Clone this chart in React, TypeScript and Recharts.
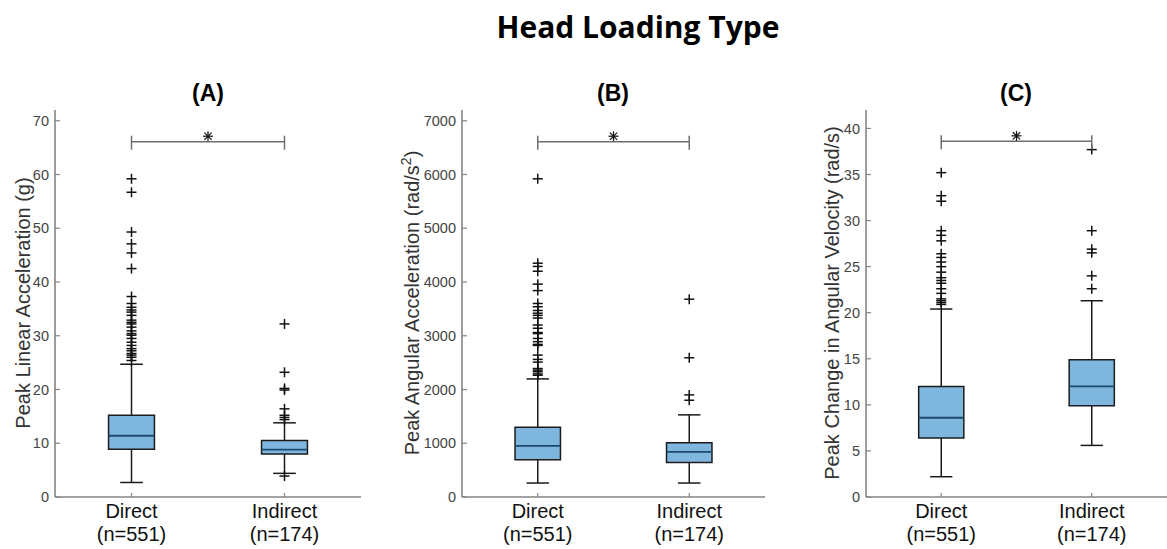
import React from 'react';
import { ComposedChart, XAxis, YAxis, Scatter, ReferenceArea, ReferenceLine } from 'recharts';

// Groups shown on every panel
const categories = ['Direct', 'Indirect'];
const sampleSizes = [551, 174];
const positions = [1, 2];

// (A) Peak linear acceleration (g)
const linearQ1 = [8.9, 8.0];
const linearMedian = [11.4, 8.8];
const linearQ3 = [15.2, 10.5];
const linearLow = [2.7, 4.4];
const linearHigh = [24.7, 13.8];
const linearDirectOutliers = [
  59.2, 56.7, 49.3, 47.1, 45.4, 42.5, 37.3, 36.0, 35.3, 34.8, 34.4, 33.8, 32.9, 32.5, 32.2,
  31.6, 30.9, 30.4, 30.1, 29.5, 28.8, 28.2, 27.6, 27.2, 26.7, 26.4, 26.0, 25.4,
];
const linearIndirectOutliers = [32.2, 23.2, 20.2, 19.9, 16.4, 15.2, 14.8, 14.4, 3.9];
const linearTicks = [0, 10, 20, 30, 40, 50, 60, 70];
const linearMax = 72;
const linearSignificance = 66.1;

// (B) Peak angular acceleration (rad/s^2)
const angularQ1 = [693, 644];
const angularMedian = [952, 841];
const angularQ3 = [1300, 1008];
const angularLow = [260, 260];
const angularHigh = [2197, 1528];
const angularDirectOutliers = [
  5920, 4350, 4290, 4200, 3960, 3840, 3600, 3540, 3470, 3420, 3380, 3330, 3200, 3140, 3060,
  3040, 2950, 2890, 2840, 2820, 2640, 2560, 2510, 2390, 2360, 2330, 2290, 2265,
];
const angularIndirectOutliers = [3680, 2590, 1900, 1800];
const angularTicks = [0, 1000, 2000, 3000, 4000, 5000, 6000, 7000];
const angularMax = 7200;
const angularSignificance = 6610;

// (C) Peak change in angular velocity (rad/s)
const velocityQ1 = [6.4, 9.9];
const velocityMedian = [8.6, 12.0];
const velocityQ3 = [12.0, 14.9];
const velocityLow = [2.2, 5.6];
const velocityHigh = [20.4, 21.3];
const velocityDirectOutliers = [
  35.2, 32.7, 32.1, 28.9, 28.4, 27.8, 26.4, 26.0, 25.5, 25.0, 24.4, 23.8, 23.5, 23.2, 22.6,
  22.1, 21.5, 21.3, 21.1, 20.9,
];
const velocityIndirectOutliers = [37.7, 28.9, 26.9, 26.5, 24.0, 22.6];
const velocityTicks = [0, 5, 10, 15, 20, 25, 30, 35, 40];
const velocityMax = 42;
const velocitySignificance = 38.6;

const FONT = '"Liberation Sans", Arial, Helvetica, sans-serif';
const AXIS_COLOR = '#858585';
const TICK_TEXT = '#444444';
const BOX_FILL = '#7eb6de';
const BOX_EDGE = '#1c1c1c';
const MEDIAN_COLOR = '#1d4a6c';
const WHISKER_COLOR = '#1a1a1a';

const BOX_HALF = 0.15;
const CAP_HALF = 0.074;
const TICK_MARGIN = 6;

const PlusMarker = (props: any) => {
  const { cx, cy } = props;
  if (cx == null || cy == null) return null;
  return (
    <g stroke="#111" strokeWidth={1.5}>
      <line x1={cx - 5} y1={cy} x2={cx + 5} y2={cy} />
      <line x1={cx} y1={cy - 5} x2={cx} y2={cy + 5} />
    </g>
  );
};

const SigEndTick = (props: any) => {
  const { cx, cy } = props;
  if (cx == null || cy == null) return null;
  return <line x1={cx} y1={cy - 6} x2={cx} y2={cy + 8} stroke="#6e6e6e" strokeWidth={1.5} />;
};

const StarMarker = (props: any) => {
  const { cx, cy } = props;
  if (cx == null || cy == null) return null;
  const y = cy - 5.5;
  const r = 5;
  const d = 3.6;
  return (
    <g stroke="#111" strokeWidth={1.2}>
      <line x1={cx} y1={y - r} x2={cx} y2={y + r} />
      <line x1={cx - r} y1={y} x2={cx + r} y2={y} />
      <line x1={cx - d} y1={y - d} x2={cx + d} y2={y + d} />
      <line x1={cx - d} y1={y + d} x2={cx + d} y2={y - d} />
    </g>
  );
};

const YTick = (props: any) => {
  const { x, y, payload } = props;
  const axisX = x + TICK_MARGIN;
  return (
    <g>
      <line x1={axisX} y1={y} x2={axisX + 5} y2={y} stroke={AXIS_COLOR} strokeWidth={1.2} />
      <text
        x={x}
        y={y}
        dy="0.36em"
        textAnchor="end"
        fill={TICK_TEXT}
        fontSize={14.5}
        fontFamily={FONT}
      >
        {payload.value}
      </text>
    </g>
  );
};

const XTick = (props: any) => {
  const { x, y, payload } = props;
  const idx = positions.indexOf(payload.value);
  if (idx < 0) return null;
  return (
    <g>
      <line x1={x} y1={y} x2={x} y2={y - 4} stroke={AXIS_COLOR} strokeWidth={1.2} />
      <text x={x} y={y + 21} textAnchor="middle" fill="#111" fontSize={20} fontFamily={FONT}>
        {categories[idx]}
      </text>
      <text x={x} y={y + 44} textAnchor="middle" fill="#111" fontSize={20} fontFamily={FONT}>
        {`(n=${sampleSizes[idx]})`}
      </text>
    </g>
  );
};

type PanelProps = {
  left: number;
  width: number;
  marginLeft: number;
  marginRight: number;
  yAxisWidth: number;
  q1: number[];
  median: number[];
  q3: number[];
  low: number[];
  high: number[];
  directOutliers: number[];
  indirectOutliers: number[];
  ticks: number[];
  yMax: number;
  significance: number;
};

const BoxPanel = (p: PanelProps) => {
  const outlierSets = [p.directOutliers, p.indirectOutliers];
  return (
    <div style={{ position: 'absolute', left: p.left, top: 0 }}>
      <ComposedChart
        width={p.width}
        height={549}
        margin={{ top: 110, right: p.marginRight, bottom: 0, left: p.marginLeft }}
      >
        <XAxis
          type="number"
          dataKey="x"
          domain={[0.5, 2.5]}
          ticks={positions}
          interval={0}
          height={52}
          tickSize={0}
          tickMargin={0}
          tickLine={false}
          axisLine={{ stroke: AXIS_COLOR, strokeWidth: 1.6 }}
          tick={<XTick />}
        />
        <YAxis
          type="number"
          dataKey="y"
          domain={[0, p.yMax]}
          ticks={p.ticks}
          interval={0}
          width={p.yAxisWidth}
          tickSize={0}
          tickMargin={TICK_MARGIN}
          tickLine={false}
          axisLine={{ stroke: AXIS_COLOR, strokeWidth: 1.6 }}
          tick={<YTick />}
        />

        {positions.map((pos, i) => (
          <ReferenceLine
            key={`wu${i}`}
            segment={[{ x: pos, y: p.q3[i] }, { x: pos, y: p.high[i] }]}
            stroke={WHISKER_COLOR}
            strokeWidth={1.5}
          />
        ))}
        {positions.map((pos, i) => (
          <ReferenceLine
            key={`wl${i}`}
            segment={[{ x: pos, y: p.low[i] }, { x: pos, y: p.q1[i] }]}
            stroke={WHISKER_COLOR}
            strokeWidth={1.5}
          />
        ))}
        {positions.map((pos, i) => (
          <ReferenceLine
            key={`cu${i}`}
            segment={[{ x: pos - CAP_HALF, y: p.high[i] }, { x: pos + CAP_HALF, y: p.high[i] }]}
            stroke={WHISKER_COLOR}
            strokeWidth={1.5}
          />
        ))}
        {positions.map((pos, i) => (
          <ReferenceLine
            key={`cl${i}`}
            segment={[{ x: pos - CAP_HALF, y: p.low[i] }, { x: pos + CAP_HALF, y: p.low[i] }]}
            stroke={WHISKER_COLOR}
            strokeWidth={1.5}
          />
        ))}
        {positions.map((pos, i) => (
          <ReferenceArea
            key={`box${i}`}
            x1={pos - BOX_HALF}
            x2={pos + BOX_HALF}
            y1={p.q1[i]}
            y2={p.q3[i]}
            fill={BOX_FILL}
            fillOpacity={1}
            stroke={BOX_EDGE}
            strokeWidth={1.5}
          />
        ))}
        {positions.map((pos, i) => (
          <ReferenceLine
            key={`med${i}`}
            segment={[{ x: pos - BOX_HALF, y: p.median[i] }, { x: pos + BOX_HALF, y: p.median[i] }]}
            stroke={MEDIAN_COLOR}
            strokeWidth={1.8}
          />
        ))}

        <ReferenceLine
          segment={[{ x: 1, y: p.significance }, { x: 2, y: p.significance }]}
          stroke="#6e6e6e"
          strokeWidth={1.5}
        />

        {positions.map((pos, i) => (
          <Scatter
            key={`out${i}`}
            data={outlierSets[i].map((v) => ({ x: pos, y: v }))}
            shape={<PlusMarker />}
            isAnimationActive={false}
          />
        ))}
        <Scatter
          data={positions.map((pos) => ({ x: pos, y: p.significance }))}
          shape={<SigEndTick />}
          isAnimationActive={false}
        />
        <Scatter
          data={[{ x: 1.5, y: p.significance }]}
          shape={<StarMarker />}
          isAnimationActive={false}
        />
      </ComposedChart>
    </div>
  );
};

export default function App() {
  return (
    <div
      style={{
        position: 'absolute',
        left: 0,
        top: 0,
        width: 1167,
        height: 549,
        background: '#ffffff',
        overflow: 'hidden',
      }}
    >
      <BoxPanel
        left={0}
        width={390}
        marginLeft={10}
        marginRight={29}
        yAxisWidth={45}
        q1={linearQ1}
        median={linearMedian}
        q3={linearQ3}
        low={linearLow}
        high={linearHigh}
        directOutliers={linearDirectOutliers}
        indirectOutliers={linearIndirectOutliers}
        ticks={linearTicks}
        yMax={linearMax}
        significance={linearSignificance}
      />
      <BoxPanel
        left={390}
        width={390}
        marginLeft={12}
        marginRight={15}
        yAxisWidth={60}
        q1={angularQ1}
        median={angularMedian}
        q3={angularQ3}
        low={angularLow}
        high={angularHigh}
        directOutliers={angularDirectOutliers}
        indirectOutliers={angularIndirectOutliers}
        ticks={angularTicks}
        yMax={angularMax}
        significance={angularSignificance}
      />
      <BoxPanel
        left={780}
        width={387}
        marginLeft={16}
        marginRight={0}
        yAxisWidth={70}
        q1={velocityQ1}
        median={velocityMedian}
        q3={velocityQ3}
        low={velocityLow}
        high={velocityHigh}
        directOutliers={velocityDirectOutliers}
        indirectOutliers={velocityIndirectOutliers}
        ticks={velocityTicks}
        yMax={velocityMax}
        significance={velocitySignificance}
      />

      <svg
        width={1167}
        height={549}
        style={{ position: 'absolute', left: 0, top: 0, pointerEvents: 'none' }}
      >
        <text
          x={638}
          y={38}
          textAnchor="middle"
          fontFamily='"Open Sans", "Noto Sans", sans-serif'
          fontWeight={700}
          fontSize={30}
          fill="#000"
        >
          Head Loading Type
        </text>

        <text x={208} y={101} textAnchor="middle" fontFamily={FONT} fontWeight={700} fontSize={23} fill="#000">
          (A)
        </text>
        <text x={613} y={101} textAnchor="middle" fontFamily={FONT} fontWeight={700} fontSize={23} fill="#000">
          (B)
        </text>
        <text x={1016} y={101} textAnchor="middle" fontFamily={FONT} fontWeight={700} fontSize={23} fill="#000">
          (C)
        </text>

        <text
          transform="translate(30,303) rotate(-90)"
          textAnchor="middle"
          fontFamily={FONT}
          fontSize={20}
          fill="#333"
        >
          Peak Linear Acceleration (g)
        </text>
        <text
          transform="translate(419,303) rotate(-90)"
          textAnchor="middle"
          fontFamily={FONT}
          fontSize={20}
          fill="#333"
        >
          Peak Angular Acceleration (rad/s
          <tspan dy={-8} fontSize={14}>2</tspan>
          <tspan dy={8}>)</tspan>
        </text>
        <text
          transform="translate(839,303) rotate(-90)"
          textAnchor="middle"
          fontFamily={FONT}
          fontSize={20}
          fill="#333"
        >
          Peak Change in Angular Velocity (rad/s)
        </text>
      </svg>
    </div>
  );
}
